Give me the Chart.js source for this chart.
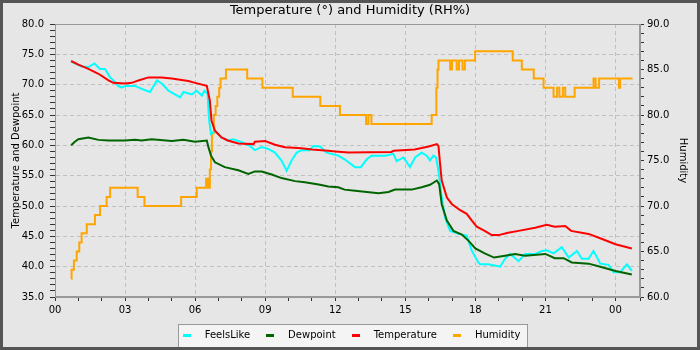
<!DOCTYPE html>
<html>
<head>
<meta charset="utf-8">
<script src="https://cdn.jsdelivr.net/npm/chart.js@4.4.1/dist/chart.umd.min.js"></script>
<style>
  html, body { margin: 0; padding: 0; background: #e6e6e6; }
</style>
</head>
<body>
<canvas id="tempChart" width="700" height="350"></canvas>
<script>
// hours since midnight, value
const feelsLike = [
  [0.69,73.8],[1.14,73.0],[1.43,72.9],[1.69,73.5],[1.93,72.6],[2.14,72.6],[2.36,71.2],[2.5,70.7],
  [2.71,69.8],[2.86,69.5],[3.0,69.8],[3.43,69.8],[3.71,69.3],[4.07,68.8],[4.36,70.7],[4.57,70.2],
  [4.86,69.0],[5.36,67.9],[5.5,68.8],[5.86,68.4],[6.07,69.0],[6.29,68.2],[6.4,69.0],[6.53,68.5],
  [6.6,64.1],[6.68,61.9],[6.85,62.4],[7.13,61.3],[7.4,60.8],[7.63,61.0],[8.0,60.5],[8.35,59.9],
  [8.56,59.2],[8.85,59.7],[9.13,59.4],[9.42,58.8],[9.7,57.5],[9.92,55.8],[10.13,57.5],[10.35,58.8],
  [10.56,59.2],[10.9,59.2],[11.06,59.9],[11.35,59.8],[11.63,58.8],[12.13,58.3],[12.4,57.7],[12.85,56.4],
  [13.1,56.4],[13.35,57.7],[13.56,58.3],[14.13,58.3],[14.49,58.6],[14.63,57.4],[14.92,58.0],[15.2,56.4],
  [15.42,58.0],[15.7,58.8],[15.92,58.3],[16.06,57.5],[16.2,58.3],[16.32,58.0],[16.42,55.8],[16.56,51.4],
  [16.7,48.1],[16.92,45.9],[17.28,45.4],[17.63,45.1],[17.85,42.6],[18.13,40.7],[18.2,40.4],[18.56,40.4],
  [19.06,40.0],[19.27,41.3],[19.49,42.1],[19.85,40.9],[20.13,42.1],[20.56,42.1],[20.85,42.6],[21.06,42.7],
  [21.35,42.2],[21.7,43.2],[22.0,41.5],[22.35,42.6],[22.56,41.3],[22.85,41.3],[23.06,42.6],[23.35,40.5],
  [23.7,40.3],[23.92,39.1],[24.2,39.1],[24.49,40.4],[24.7,39.3]
];

const dewpoint = [
  [0.69,60.0],[0.85,60.6],[1.0,61.0],[1.43,61.3],[1.86,60.9],[2.29,60.8],[3.0,60.8],[3.43,60.9],
  [3.71,60.8],[4.14,61.0],[5.0,60.7],[5.5,60.9],[6.0,60.6],[6.5,60.8],[6.57,59.7],[6.68,58.3],
  [6.85,57.2],[7.27,56.4],[7.85,55.9],[8.28,55.3],[8.56,55.7],[8.85,55.7],[9.28,55.2],[9.7,54.6],
  [10.28,54.1],[10.7,53.9],[11.35,53.5],[11.7,53.2],[12.13,53.1],[12.4,52.7],[12.85,52.5],[13.85,52.1],
  [14.28,52.3],[14.56,52.7],[15.27,52.7],[15.7,53.1],[16.06,53.5],[16.35,54.2],[16.45,53.6],[16.56,50.3],
  [16.78,47.6],[17.06,45.9],[17.42,45.3],[17.7,44.3],[18.0,43.0],[18.4,42.2],[18.8,41.5],[19.27,41.8],
  [19.7,42.1],[20.13,41.8],[21.0,42.1],[21.4,41.4],[21.78,41.4],[22.13,40.7],[22.85,40.5],[23.35,40.0],
  [24.0,39.3],[24.7,38.7]
];

const temperature = [
  [0.69,73.9],[1.0,73.3],[1.43,72.6],[1.86,71.8],[2.29,70.7],[2.5,70.3],[3.0,70.2],[3.29,70.3],
  [3.57,70.7],[4.0,71.2],[4.57,71.2],[5.0,71.0],[5.71,70.6],[6.0,70.3],[6.5,69.8],[6.63,67.4],
  [6.7,64.1],[6.85,62.4],[7.13,61.3],[7.4,60.8],[7.85,60.3],[8.5,60.2],[8.56,60.6],[9.0,60.7],
  [9.42,60.1],[9.85,59.7],[10.56,59.5],[11.0,59.3],[11.7,59.1],[12.0,59.0],[12.57,58.8],[14.4,58.9],
  [14.5,59.1],[15.4,59.3],[16.0,59.8],[16.35,60.2],[16.42,59.9],[16.49,56.9],[16.56,54.2],[16.78,51.4],
  [17.0,50.3],[17.35,49.3],[17.63,48.7],[17.85,47.6],[18.06,46.6],[18.4,45.9],[18.7,45.2],[19.0,45.2],
  [19.4,45.6],[19.85,45.9],[20.56,46.4],[21.06,46.9],[21.4,46.6],[21.85,46.7],[22.1,45.9],[22.85,45.4],
  [23.4,44.6],[24.0,43.7],[24.7,43.0]
];

// humidity readings change in whole percent, each value holds until the next one
const humidity = [
  [0.69,62],[0.71,63],[0.81,64],[0.93,65],[1.04,66],[1.14,67],[1.36,68],[1.71,69],[1.93,70],[2.21,71],
  [2.36,72],[3.54,71],[3.83,70],[5.4,71],[6.07,72],[6.47,73],[6.55,72],[6.63,74],[6.68,76],[6.72,78],
  [6.8,80],[6.88,81],[6.95,82],[7.03,83],[7.09,84],[7.32,85],[8.23,84],[8.88,83],[10.18,82],[11.36,81],
  [12.2,80],[13.32,79],[13.42,80],[13.55,79],[16.13,80],[16.33,83],[16.38,85],[16.42,86],[16.92,85],[17.0,86],
  [17.2,85],[17.3,86],[17.45,85],[17.55,86],[17.99,87],[19.6,86],[19.99,85],[20.5,84],[20.92,83],[21.35,82],
  [21.5,83],[21.6,82],[21.75,83],[21.85,82],[22.25,83],[23.06,84],[23.15,83],[23.3,84],[24.15,83],[24.2,84],
  [24.73,84]
];

const seriesNames = ['FeelsLike', 'Dewpoint', 'Temperature', 'Humidity'];
const seriesColors = ['#00ffff', '#006400', '#ff0000', '#ffa500'];

const FONT = 'DejaVu Sans';
const GRID = '#c0c0c0';
const BG = '#e6e6e6';

const isMajor = (v, step) => Math.abs(v / step - Math.round(v / step)) < 1e-6;

// background, legend frame, plot outline and legend swatches
const chartFrame = {
  id: 'chartFrame',
  beforeDraw(chart) {
    const ctx = chart.ctx;
    ctx.save();
    ctx.fillStyle = BG;
    ctx.fillRect(0, 0, chart.width, chart.height);
    const boxes = chart.legend.legendHitBoxes;
    if (boxes.length) {
      const first = boxes[0], last = boxes[boxes.length - 1];
      const cy = first.top + first.height / 2;
      const x0 = Math.round(first.left) - 1.5;
      const x1 = Math.round(last.left + last.width) + 7.5;
      const y0 = Math.round(cy - 11) + 0.5;
      ctx.fillStyle = '#f4f4f4';
      ctx.fillRect(x0, y0, x1 - x0, 23);
      ctx.strokeStyle = '#999';
      ctx.lineWidth = 1;
      ctx.strokeRect(x0, y0, x1 - x0, 23);
    }
    ctx.restore();
  },
  beforeDatasetsDraw(chart) {
    const {ctx, chartArea: a} = chart;
    ctx.save();
    ctx.strokeStyle = '#999';
    ctx.lineWidth = 1;
    ctx.strokeRect(a.left + 0.5, a.top + 0.5, a.right - a.left - 1, a.bottom - a.top - 1);
    ctx.restore();
  },
  afterDraw(chart) {
    const ctx = chart.ctx;
    ctx.save();
    chart.legend.legendHitBoxes.forEach((hb, i) => {
      const item = chart.legend.legendItems[i];
      ctx.fillStyle = chart.data.datasets[item.datasetIndex].borderColor;
      ctx.fillRect(Math.round(hb.left) + 3, Math.round(hb.top + hb.height / 2) - 1, 8, 3);
    });
    ctx.strokeStyle = '#555';
    ctx.lineWidth = 3;
    ctx.strokeRect(1.5, 1.5, chart.width - 3, chart.height - 3);
    ctx.restore();
  }
};

const makeSet = (i, data, extra) => Object.assign({
  label: seriesNames[i],
  data: data,
  borderColor: seriesColors[i],
  backgroundColor: seriesColors[i],
  borderWidth: 2,
  pointRadius: 0,
  tension: 0,
  fill: false,
  yAxisID: 'y'
}, extra);

const ctx = document.getElementById('tempChart').getContext('2d');
new Chart(ctx, {
  type: 'line',
  data: {
    datasets: [
      makeSet(0, feelsLike, {order: 2}),
      makeSet(1, dewpoint, {order: 1}),
      makeSet(2, temperature, {order: 0}),
      makeSet(3, humidity, {order: 3, yAxisID: 'y1', stepped: 'before'})
    ]
  },
  options: {
    responsive: false,
    animation: false,
    layout: { padding: { left: 3, right: 3, top: 0, bottom: 0 } },
    plugins: {
      title: {
        display: true,
        text: 'Temperature (°) and Humidity (RH%)',
        color: '#000',
        font: { family: FONT, size: 13, weight: 'normal', lineHeight: '16px' },
        padding: { top: 3, bottom: 5 }
      },
      legend: {
        position: 'bottom',
        labels: {
          color: '#000',
          font: { family: FONT, size: 10 },
          boxWidth: 20,
          boxHeight: 3,
          padding: 13,
          sort: (a, b) => a.datasetIndex - b.datasetIndex,
          generateLabels(chart) {
            return Chart.defaults.plugins.legend.labels.generateLabels(chart).map(item => {
              item.fillStyle = 'rgba(0,0,0,0)';
              item.strokeStyle = 'rgba(0,0,0,0)';
              item.lineWidth = 0;
              return item;
            });
          }
        }
      },
      tooltip: { enabled: false }
    },
    scales: {
      x: {
        type: 'linear',
        min: 0,
        max: 25.05,
        afterFit: s => { s.height = 20; },
        grid: {
          color: c => (c.tick.value > 0 && c.tick.value < 25 && isMajor(c.tick.value, 3)) ? GRID : 'rgba(0,0,0,0)',
          tickColor: '#333',
          tickLength: 4
        },
        border: { color: '#999', dash: [4, 3] },
        ticks: {
          stepSize: 1,
          autoSkip: false,
          maxRotation: 0,
          padding: 3,
          color: '#000',
          font: { family: FONT, size: 10 },
          callback: v => isMajor(v, 3) && v <= 24 ? String(Math.round(v) % 24).padStart(2, '0') : ''
        }
      },
      y: {
        position: 'left',
        min: 35,
        max: 80,
        afterFit: s => { s.width = 52; },
        title: {
          display: true,
          text: 'Temperature and Dewpoint',
          color: '#000',
          font: { family: FONT, size: 10 },
          padding: { top: 7, bottom: 0 }
        },
        grid: {
          color: c => (c.tick.value > 35 && c.tick.value < 80 && isMajor(c.tick.value, 5)) ? GRID : 'rgba(0,0,0,0)',
          tickColor: '#333',
          tickLength: 5
        },
        border: { color: '#999', dash: [4, 3] },
        ticks: {
          stepSize: 1,
          autoSkip: false,
          padding: 6,
          color: '#000',
          font: { family: FONT, size: 10 },
          callback: v => isMajor(v, 5) ? v.toFixed(1) : ''
        }
      },
      y1: {
        position: 'right',
        min: 60,
        max: 90,
        afterFit: s => { s.width = 57; },
        title: {
          display: true,
          text: 'Humidity',
          color: '#000',
          font: { family: FONT, size: 10 },
          padding: { top: 8, bottom: 0 }
        },
        grid: { drawOnChartArea: false, tickColor: '#333', tickLength: 4 },
        border: { color: '#999' },
        ticks: {
          stepSize: 1,
          autoSkip: false,
          padding: 3,
          color: '#000',
          font: { family: FONT, size: 10 },
          callback: v => isMajor(v, 5) ? v.toFixed(1) : ''
        }
      }
    }
  },
  plugins: [chartFrame]
});
</script>
</body>
</html>
